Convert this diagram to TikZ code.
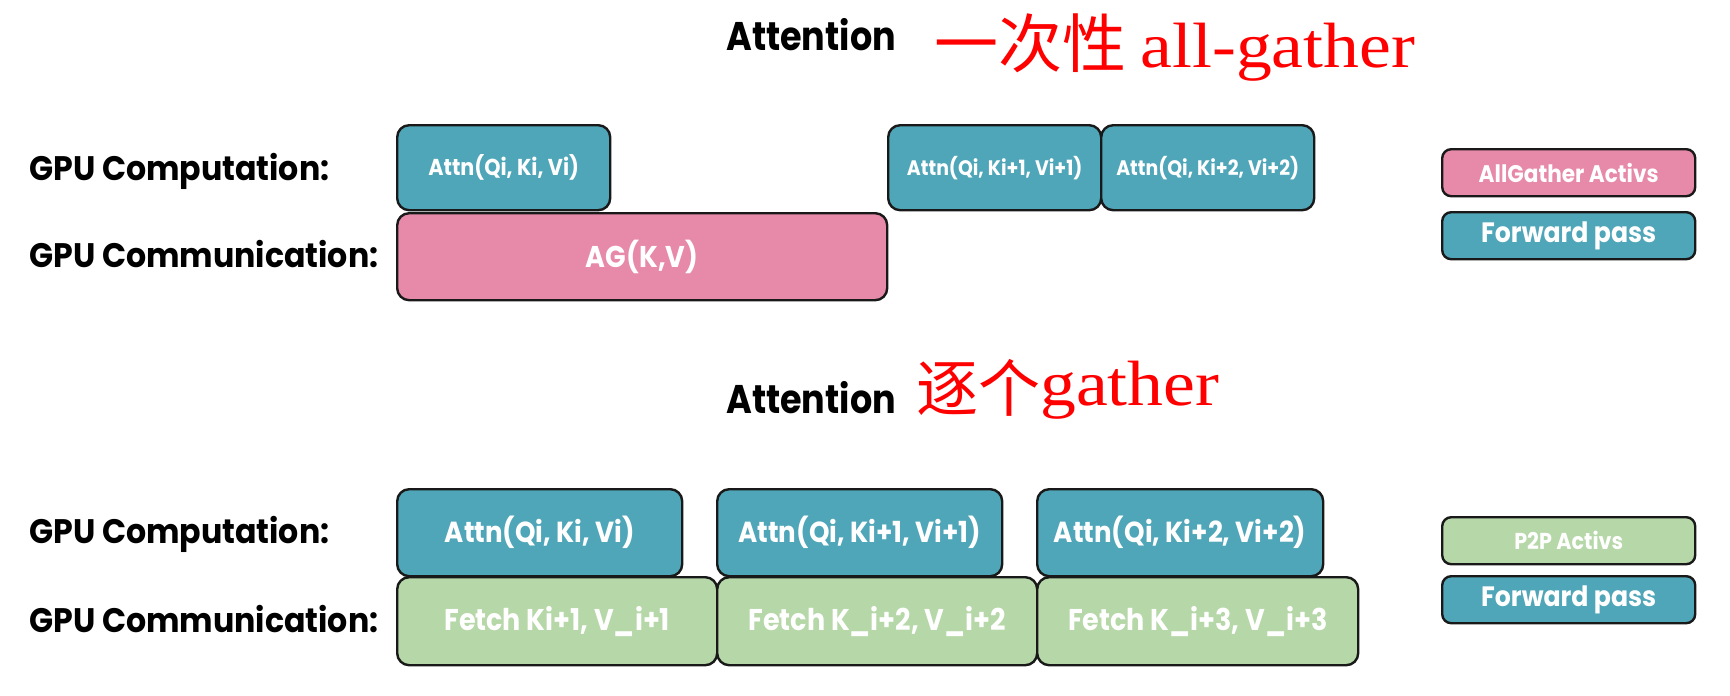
\documentclass[tikz,border=0pt]{standalone}
\usepackage{fontspec}
\setsansfont{Poppins}
\newfontfamily\lblfont{Poppins}[FakeStretch=0.93]
\newfontfamily\ttlfont{Poppins}[FakeStretch=0.875]
\newfontfamily\boxfont{Poppins}[FakeStretch=0.9]
\newfontfamily\cjk{Noto Sans CJK SC}
\newfontfamily\redserif{Liberation Serif}[FakeStretch=1.12]
\definecolor{tealbox}{HTML}{50A6B9}
\definecolor{pinkbox}{HTML}{E789A9}
\definecolor{greenbox}{HTML}{B6D7A8}
\definecolor{redtxt}{HTML}{FF0000}
\newcommand{\fs}[1]{\fontsize{#1}{#1}\selectfont}
\tikzset{
  box/.style={draw=black!90, line width=2.4pt, rounded corners=12pt, inner sep=0pt, anchor=north west, text=white},
  comp/.style={box, fill=tealbox},
  agbox/.style={box, fill=pinkbox},
  p2p/.style={box, fill=greenbox},
  bf/.style={font=\boxfont\bfseries\fs{#1}},
  lbl/.style={anchor=base west, inner sep=0pt, font=\lblfont\bfseries\fs{34}},
  ttl/.style={anchor=base west, inner sep=0pt, font=\ttlfont\bfseries\fs{40}},
  redlbl/.style={anchor=base west, inner sep=0pt, text=redtxt},
}
\begin{document}
\begin{tikzpicture}[x=1pt,y=-1pt]
\useasboundingbox (0,0) rectangle (1730,696);
% ---------- top ----------
\node[ttl] (t1) at (726,50) {Attention};
\node[redlbl] (r1) at (934,67) {\fs{64}\cjk 一次性 \redserif all-gather};
\node[lbl] (l1) at (29,180) {GPU Computation:};
\node[lbl] (l2) at (29,267) {GPU Communication:};
\node[agbox, minimum width=490pt, minimum height=87pt, bf=30] (ag) at (396,212) {AG(K,V)};
\node[comp, minimum width=213pt, minimum height=85pt, bf=23] (a1) at (396,124) {Attn(Qi, Ki, Vi)};
\node[comp, minimum width=213pt, minimum height=85pt, bf=21] (a2) at (887,124) {Attn(Qi, Ki+1, Vi+1)};
\node[comp, minimum width=213pt, minimum height=85pt, bf=21] (a3) at (1100,124) {Attn(Qi, Ki+2, Vi+2)};
\node[agbox, rounded corners=9pt, minimum width=253pt, minimum height=47pt, bf=24] (lg1) at (1441,148) {AllGather Activs};
\node[comp, rounded corners=9pt, minimum width=253pt, minimum height=47pt, bf=28] (lg2) at (1441,211) {Forward pass};
% ---------- bottom ----------
\node[ttl] (t2) at (726,413) {Attention};
\node[redlbl] (r2) at (916,405) {\fs{64}\raisebox{-6pt}{\cjk\fs{62}逐个}\redserif gather};
\node[lbl] (l3) at (29,543) {GPU Computation:};
\node[lbl] (l4) at (29,632) {GPU Communication:};
\node[p2p, minimum width=320pt, minimum height=88pt, bf=30] (f1) at (396,576) {Fetch Ki+1, V\_i+1};
\node[p2p, minimum width=320pt, minimum height=88pt, bf=30] (f2) at (716,576) {Fetch K\_i+2, V\_i+2};
\node[p2p, minimum width=321pt, minimum height=88pt, bf=30] (f3) at (1036,576) {Fetch K\_i+3, V\_i+3};
\node[comp, minimum width=285pt, minimum height=87pt, bf=29] (b1) at (396,488) {Attn(Qi, Ki, Vi)};
\node[comp, minimum width=285pt, minimum height=87pt, bf=29] (b2) at (716,488) {Attn(Qi, Ki+1, Vi+1)};
\node[comp, minimum width=286pt, minimum height=87pt, bf=29] (b3) at (1036,488) {Attn(Qi, Ki+2, Vi+2)};
\node[p2p, rounded corners=9pt, minimum width=253pt, minimum height=47pt, bf=23] (lg3) at (1441,516) {P2P Activs};
\node[comp, rounded corners=9pt, minimum width=253pt, minimum height=47pt, bf=28] (lg4) at (1441,575) {Forward pass};
\end{tikzpicture}
\end{document}
